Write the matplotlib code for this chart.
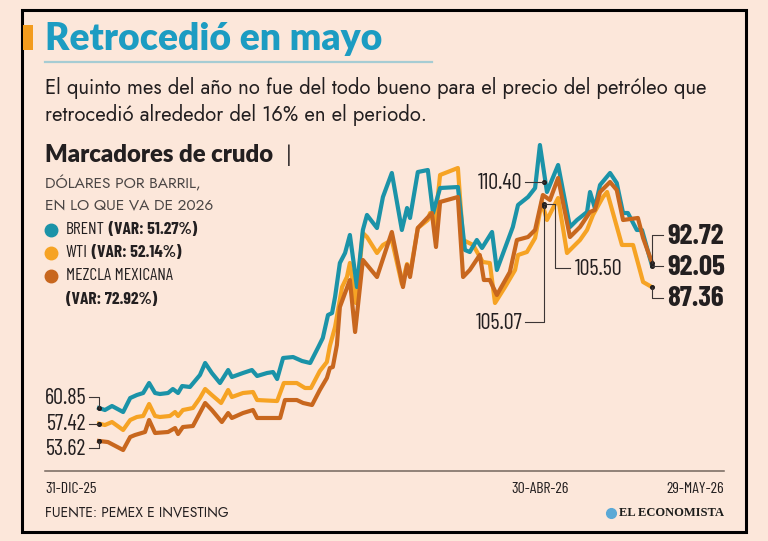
import numpy as np
import matplotlib.pyplot as plt
from matplotlib.lines import Line2D
from matplotlib.patches import Rectangle
from matplotlib.transforms import IdentityTransform

# datos: dias desde el 31-dic-25 y dolares por barril
brent_dias = [0, 1.6, 3.5, 6.5, 8.4, 10.2, 11.9, 13.5, 15.1, 16.4, 18.6, 19.9, 21.3, 22.4, 24.5,
              27.2, 28.6, 30.4, 32.6, 34.8, 35.8, 38.8, 41.2, 42.6, 45.3, 46.9, 48.0, 49.6, 52.3,
              54.7, 56.9, 59.1, 60.3, 61.7, 62.8, 63.6, 64.9, 66.3, 67.6, 69.5, 71.1, 72.2, 74.9,
              76.5, 78.9, 81.6, 83.0, 83.8, 85.9, 88.6, 90.0, 91.9, 96.7, 98.6, 99.9, 101.8, 103.2,
              105.9, 107.2, 109.4, 111.5, 112.9, 115.6, 117.5, 118.8, 120.7, 123.7, 126.9, 128.8,
              131.5, 132.3, 133.6, 135.0, 137.7, 139.5, 141.2, 142.5, 144.9, 146.3, 149]
brent = [60.85, 60.41, 61.29, 59.97, 63.04, 63.70, 64.14, 66.33, 64.14, 63.92, 64.14, 65.02, 64.14,
         65.67, 65.46, 68.09, 70.72, 68.53, 66.33, 69.18, 67.65, 68.53, 69.18, 67.87, 68.53, 68.74,
         67.21, 71.82, 72.03, 71.16, 70.72, 74.23, 76.20, 81.24, 81.68, 85.19, 92.65, 94.84, 98.79,
         87.38, 99.89, 103.18, 100.32, 107.12, 112.39, 99.89, 104.71, 102.52, 112.60, 113.04,
         103.61, 109.09, 109.31, 95.50, 95.06, 97.69, 95.94, 99.45, 91.11, 95.94, 100.54, 105.37,
         107.12, 109.09, 118.52, 108.22, 114.14, 100.54, 102.08, 103.83, 108.22, 104.71, 109.75,
         112.39, 110.19, 103.61, 103.61, 99.89, 99.89, 92.05]

wti_dias = [0, 1.6, 3.5, 6.5, 8.4, 10.2, 11.9, 13.5, 15.1, 16.4, 19.1, 20.5, 21.3, 22.6, 25.3,
            27.2, 28.6, 30.4, 32.9, 34.8, 35.8, 38.8, 41.5, 42.6, 48.0, 49.8, 53.3, 55.5, 57.1,
            59.5, 61.4, 62.2, 63.6, 65.5, 66.8, 67.6, 69.2, 71.1, 72.2, 74.9, 76.5, 78.9, 81.6,
            83.0, 83.8, 85.9, 88.6, 89.2, 90.5, 91.9, 96.7, 98.1, 100.8, 103.4, 105.3, 106.7,
            109.4, 112.1, 112.9, 115.3, 117.5, 119.3, 120.7, 123.7, 126.1, 129.6, 131.5, 133.1,
            135.8, 136.9, 140.9, 143.9, 146.6, 149]
wti = [57.42, 57.12, 57.78, 56.03, 58.22, 58.88, 59.10, 61.73, 59.10, 58.88, 59.10, 59.97, 59.10,
       60.41, 60.85, 63.04, 65.02, 63.70, 61.95, 64.80, 63.26, 64.14, 64.36, 62.60, 62.38, 66.33,
       66.33, 65.24, 65.24, 68.96, 70.94, 74.45, 78.61, 87.38, 89.58, 92.65, 83.88, 99.23, 98.35,
       94.84, 96.60, 97.69, 88.04, 92.43, 90.24, 100.32, 102.08, 103.61, 100.98, 111.95, 113.48,
       97.69, 96.60, 92.87, 92.65, 83.88, 87.38, 91.11, 94.40, 95.06, 98.13, 106.03, 102.08,
       106.90, 94.84, 97.69, 99.89, 103.18, 107.12, 108.22, 96.60, 96.60, 88.48, 87.36]

mezcla_dias = [0, 2.4, 6.5, 8.4, 9.7, 12.4, 13.5, 15.1, 18.6, 20.5, 21.3, 22.6, 25.3, 28.6, 30.4,
               33.1, 34.8, 35.8, 38.8, 41.5, 42.6, 48.8, 50.1, 53.3, 55.0, 57.4, 59.5, 61.4, 62.2,
               63.0, 64.1, 64.9, 66.3, 67.6, 69.0, 71.1, 74.9, 78.9, 81.9, 83.0, 83.8, 85.9, 89.7,
               90.8, 91.9, 96.7, 98.1, 99.9, 102.6, 103.7, 105.3, 107.2, 110.7, 112.6, 115.6, 117.5,
               119.6, 121.5, 123.7, 126.9, 129.6, 132.3, 133.6, 135.0, 137.7, 139.5, 141.2, 145.2,
               146.6, 149]
mezcla = [53.62, 53.39, 51.64, 54.49, 54.93, 55.59, 58.22, 55.37, 55.59, 56.46, 55.15, 56.68, 56.90,
          61.95, 60.41, 57.78, 59.75, 58.66, 59.75, 60.41, 58.66, 58.66, 62.60, 62.60, 61.95, 61.51,
          64.80, 67.43, 69.62, 69.84, 74.67, 83.00, 86.07, 88.92, 77.52, 93.31, 89.58, 99.45, 87.38,
          92.21, 89.58, 100.32, 103.61, 96.16, 106.03, 107.12, 89.58, 91.11, 94.40, 88.92, 88.92,
          85.63, 90.67, 97.69, 98.35, 99.89, 107.56, 106.46, 111.29, 98.35, 100.54, 103.83, 104.27,
          108.22, 110.41, 108.66, 102.08, 102.52, 98.13, 92.72]

nombres = ['BRENT', 'WTI', 'MEZCLA MEXICANA']
variaciones = ['(VAR: 51.27%)', '(VAR: 52.14%)', '(VAR: 72.92%)']
colores = ['#1b93a8', '#f6a324', '#c8671e']
fechas = ['31-DIC-25', '30-ABR-26', '29-MAY-26']
inicio = [60.85, 57.42, 53.62]
final = [92.05, 87.36, 92.72]
dia_abril = 120
abril = [110.40, 105.50, 105.07]

W, H = 768, 541
fondo = '#fce7da'
tinta = '#231f20'
futura = ['Jost', 'Lato', 'DejaVu Sans']
negrita = ['Lato', 'DejaVu Sans']
angosta = ['Barlow Condensed', 'Liberation Sans', 'DejaVu Sans']


def px(x, y):
    return x / W, 1 - y / H


fig = plt.figure(figsize=(W / 100, H / 100), dpi=100, facecolor=fondo)

# marco y encabezado
fig.add_artist(Rectangle(px(22, 532), 724 / W, 522 / H, transform=fig.transFigure,
                         fill=False, edgecolor='black', lw=2.2))
fig.add_artist(Rectangle(px(23, 50), 10 / W, 25 / H, transform=fig.transFigure,
                         color='#f39c1e', lw=0))
fig.text(*px(45, 39), 'Retrocedió en mayo', fontsize=26.8, fontweight='heavy', family=negrita,
         color='#1c9cc2', va='center')
fig.add_artist(Line2D([45 / W, 432 / W], [1 - 62 / H] * 2, transform=fig.transFigure,
                      color='#a6ccd3', lw=1.6))
fig.text(*px(45, 88), 'El quinto mes del año no fue del todo bueno para el precio del petróleo que',
         fontsize=14.6, fontweight='light', family=futura, color=tinta, va='center')
fig.text(*px(45, 115), 'retrocedió alrededor del 16% en el periodo.',
         fontsize=14.6, fontweight='light', family=futura, color=tinta, va='center')

fig.text(*px(45, 155), 'Marcadores de crudo', fontsize=17.2, fontweight='heavy', family=negrita,
         color=tinta, va='center')
fig.text(*px(286, 155), '|', fontsize=15, fontweight='light', family=futura, color=tinta, va='center')
fig.text(*px(45, 183), 'DÓLARES POR BARRIL,', fontsize=11.2, fontweight='light', family=futura,
         color='#4b4645', va='center')
fig.text(*px(45, 206), 'EN LO QUE VA DE 2026', fontsize=11.2, fontweight='light', family=futura,
         color='#4b4645', va='center')

# grafica
ax = fig.add_axes([99 / W, 1 - 460 / H, 553 / W, 320 / H])
ax.set_xlim(0, 149)
ax.set_ylim(49.45, 119.62)
ax.axis('off')
ax.plot(wti_dias, wti, color=colores[1], lw=3, zorder=2, clip_on=False)
ax.plot(brent_dias, brent, color=colores[0], lw=3, zorder=3, clip_on=False)
ax.plot(mezcla_dias, mezcla, color=colores[2], lw=3, zorder=4, clip_on=False)

# leyenda
for i, (nombre, var, color) in enumerate(zip(nombres, variaciones, colores)):
    y = 230 + 23 * i
    fig.add_artist(Line2D([51 / W], [1 - y / H], transform=fig.transFigure, marker='o', ms=9,
                          color=color, lw=0))
    t = fig.text(*px(66, y), nombre, fontsize=12.5, family=angosta, color=tinta, va='center')
    if i < 2:
        ax.annotate(' ' + var, xy=(1, 0.5), xycoords=t, va='center', fontsize=12.5,
                    fontweight='bold', family=angosta, color=tinta, annotation_clip=False)
    else:
        fig.text(*px(66, y + 23), var, fontsize=12.5, fontweight='bold', family=angosta,
                 color=tinta, va='center')


def llamada(x, y, pasos, texto, dx, dy, ha, **kw):
    x0, y0 = ax.transData.transform((x, y))
    xs = [x0] + [x0 + a for a, b in pasos]
    ys = [y0] + [y0 - b for a, b in pasos]
    fig.add_artist(Line2D(xs, ys, transform=IdentityTransform(), color='#3c3535', lw=0.8, zorder=6))
    ax.plot(x, y, 'o', color=tinta, ms=2.6, zorder=7, clip_on=False)
    ax.annotate(texto, xy=(x, y), xytext=(dx, -dy), textcoords='offset pixels', ha=ha,
                va='center', family=angosta, color=tinta, annotation_clip=False, **kw)


llamada(0, inicio[0], [(0, -11), (-10, -11)], f'{inicio[0]:.2f}', -13, -10, 'right', fontsize=16)
llamada(0, inicio[1], [(-10, 0)], f'{inicio[1]:.2f}', -13, 1, 'right', fontsize=16)
llamada(0, inicio[2], [(0, 7), (-10, 7)], f'{inicio[2]:.2f}', -13, 9, 'right', fontsize=16)

llamada(dia_abril, abril[0], [(-19, 0)], f'{abril[0]:.2f}', -22, 1, 'right', fontsize=16)
llamada(dia_abril, abril[1], [(11, 0), (11, 64), (26, 64)], f'{abril[1]:.2f}', 30, 65, 'left',
        fontsize=16)
llamada(dia_abril, abril[2], [(0, 116), (-19, 116)], f'{abril[2]:.2f}', -22, 117, 'right',
        fontsize=16)

llamada(149, final[2], [(0, -28), (11, -28)], f'{final[2]:.2f}', 15, -26, 'left', fontsize=21,
        fontweight='bold')
llamada(149, final[0], [(11, 0)], f'{final[0]:.2f}', 15, 2, 'left', fontsize=21, fontweight='bold')
llamada(149, final[1], [(0, 11), (11, 11)], f'{final[1]:.2f}', 15, 11, 'left', fontsize=21,
        fontweight='bold')

# eje de fechas y pie
fig.add_artist(Line2D([45 / W, 724 / W], [1 - 471 / H] * 2, transform=fig.transFigure,
                      color='#74665e', lw=1.1))
fig.text(*px(45, 489), fechas[0], fontsize=11.5, family=angosta, color=tinta, va='center')
fig.text(*px(540, 489), fechas[1], fontsize=11.5, family=angosta, color=tinta, va='center',
         ha='center')
fig.text(*px(724, 489), fechas[2], fontsize=11.5, family=angosta, color=tinta, va='center',
         ha='right')
fig.text(*px(45, 513), 'FUENTE: PEMEX E INVESTING', fontsize=10, family=futura, color=tinta,
         va='center')
fig.text(*px(724, 513), 'EL ECONOMISTA', fontsize=9, fontweight='bold',
         family=['Liberation Serif', 'DejaVu Serif'], color='#1d1d1b', va='center', ha='right')
fig.add_artist(Line2D([611 / W], [1 - 513 / H], transform=fig.transFigure, marker='o', ms=7,
                      color='#5aa9d6', lw=0))

fig.savefig('out.png', dpi=100, facecolor=fondo)
